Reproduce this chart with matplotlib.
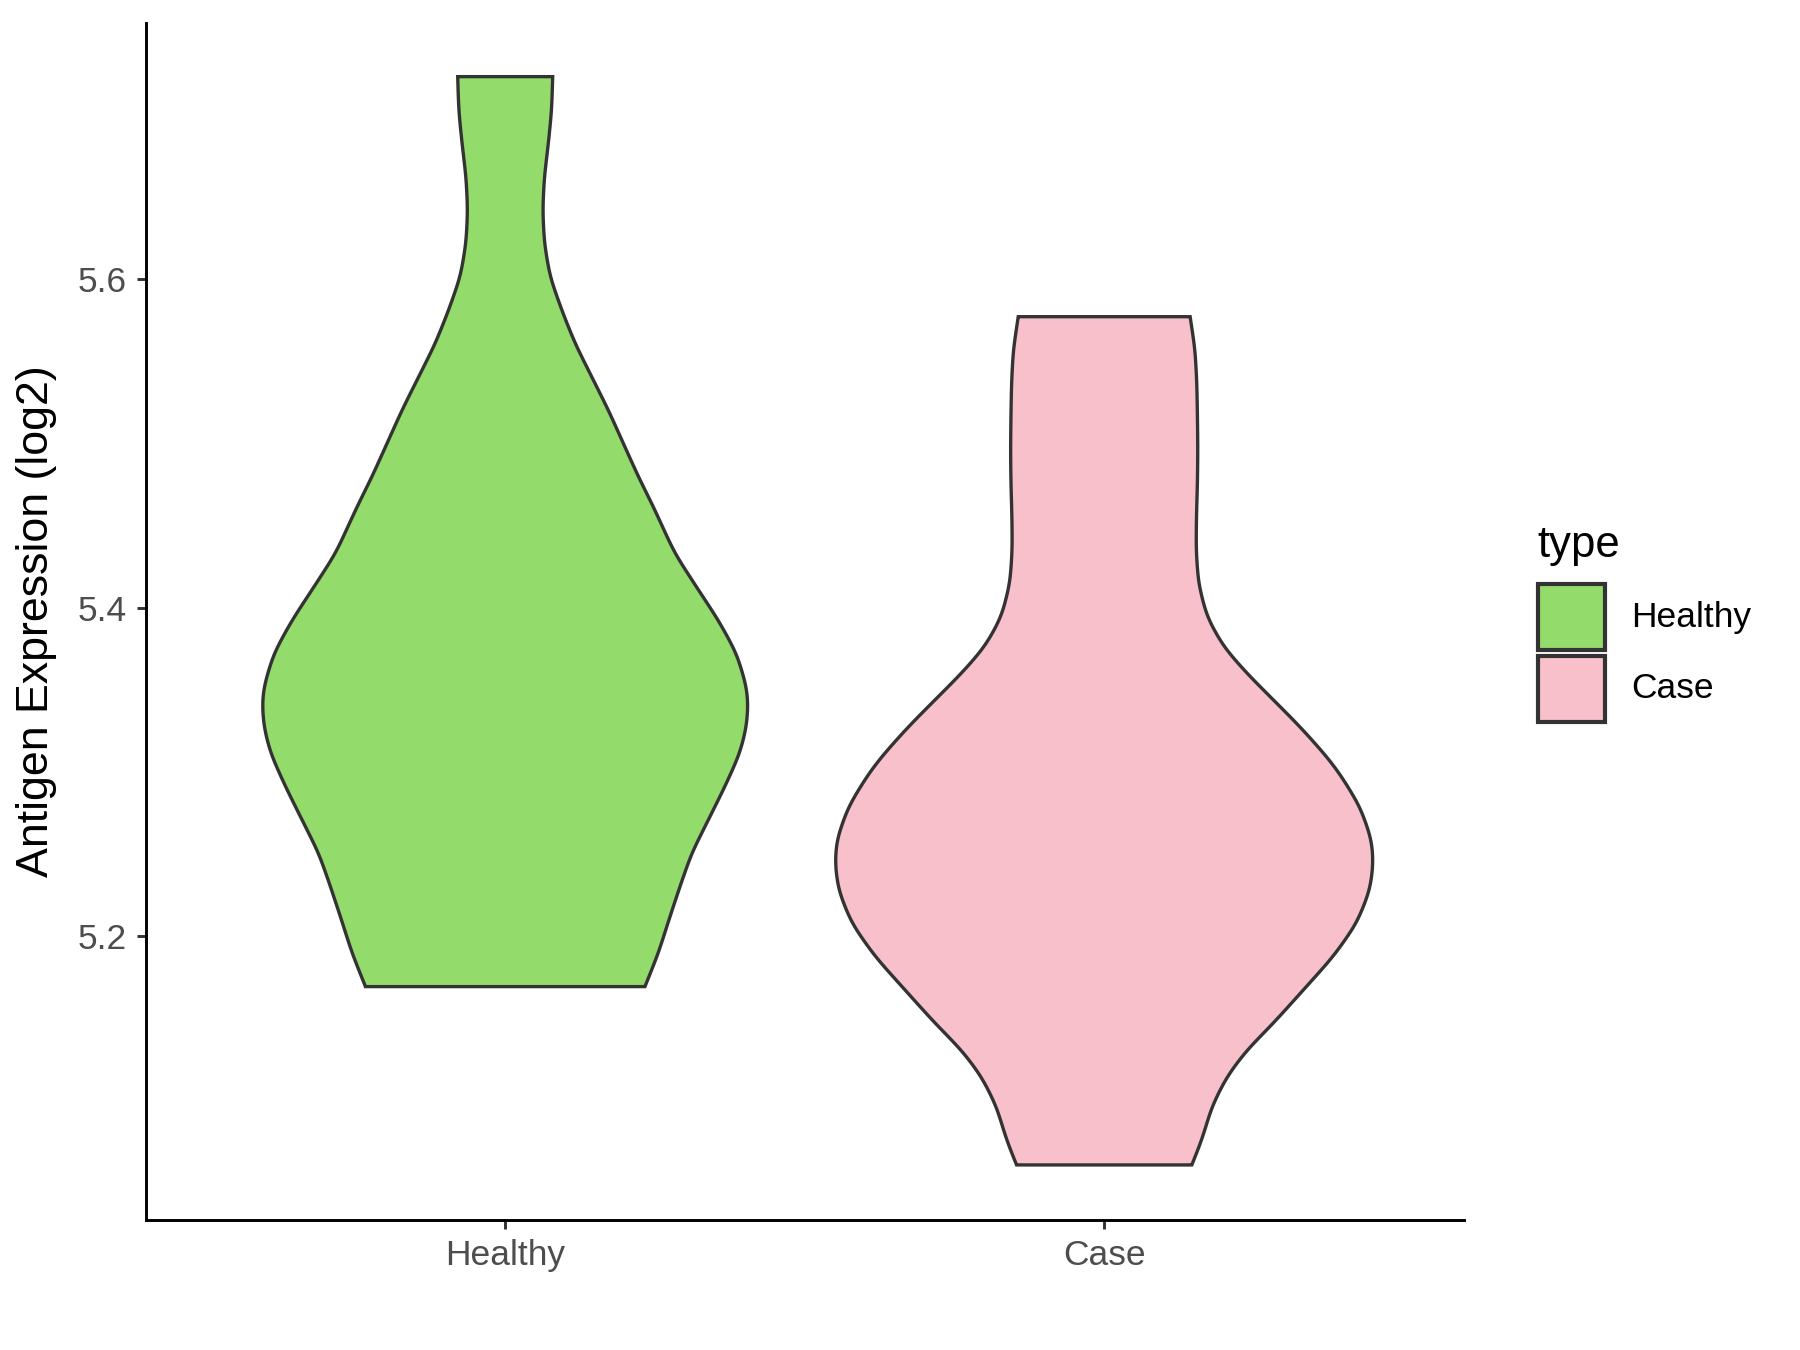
import numpy as np
import matplotlib
matplotlib.use("Agg")
import matplotlib.pyplot as plt
from matplotlib.patches import Rectangle

# ---------------- data ----------------
categories = ["Healthy", "Case"]
fill_colors = ["#93DB6A", "#F8C0CB"]

# violin outline: expression level (log2) and half-width (category units)
healthy_levels = [5.7234, 5.7031, 5.6828, 5.6625, 5.6422, 5.6219, 5.6016, 5.5813,
                  5.5610, 5.5407, 5.5204, 5.5001, 5.4798, 5.4615, 5.4331, 5.4128,
                  5.3925, 5.3722, 5.3519, 5.3418, 5.3275, 5.3113, 5.2910, 5.2707,
                  5.2504, 5.2301, 5.2098, 5.1895, 5.1692]
healthy_halfwidth = [0.0793, 0.0776, 0.0721, 0.0654, 0.0626, 0.0654, 0.0748, 0.0943,
                     0.1165, 0.1443, 0.1722, 0.1972, 0.2223, 0.2473, 0.2830, 0.3190,
                     0.3557, 0.3863, 0.4030, 0.4058, 0.4030, 0.3918, 0.3668, 0.3391,
                     0.3112, 0.2917, 0.2733, 0.2556, 0.2333]

case_levels = [5.5772, 5.5569, 5.5367, 5.5163, 5.4960, 5.4758, 5.4554, 5.4351,
               5.4149, 5.3945, 5.3762, 5.3600, 5.3438, 5.3275, 5.3093, 5.2991,
               5.2788, 5.2585, 5.2443, 5.2281, 5.2078, 5.1875, 5.1672, 5.1469,
               5.1306, 5.1144, 5.0961, 5.0758, 5.0606]
case_halfwidth = [0.1435, 0.1518, 0.1547, 0.1557, 0.1563, 0.1557, 0.1540, 0.1535,
                  0.1573, 0.1714, 0.1991, 0.2381, 0.2825, 0.3270, 0.3716, 0.3930,
                  0.4272, 0.4467, 0.4494, 0.4438, 0.4217, 0.3826, 0.3326, 0.2825,
                  0.2381, 0.2047, 0.1797, 0.1630, 0.1463]

y_ticks = [5.2, 5.4, 5.6]
y_label = "Antigen Expression (log2)"
legend_title = "type"

levels = [healthy_levels, case_levels]
halfwidths = [healthy_halfwidth, case_halfwidth]

# ---------------- helpers ----------------
def smooth_outline(y, w, n=600, sigma=0.006):
    """Dense, lightly smoothed rendering of the outline through the read points."""
    y = np.asarray(y, float)
    w = np.asarray(w, float)
    order = np.argsort(y)
    y, w = y[order], w[order]
    grid = np.linspace(y[0], y[-1], n)
    wg = np.interp(grid, y, w)
    dy = grid[1] - grid[0]
    k = int(np.ceil(3 * sigma / dy))
    # odd reflection keeps the end slopes
    left = 2 * wg[0] - wg[1:k + 1][::-1]
    right = 2 * wg[-1] - wg[-k - 1:-1][::-1]
    padded = np.concatenate([left, wg, right])
    t = np.arange(-k, k + 1) * dy
    ker = np.exp(-0.5 * (t / sigma) ** 2)
    ker /= ker.sum()
    ws = np.convolve(padded, ker, mode="valid")
    return grid, ws

# ---------------- figure ----------------
plt.rcParams["font.family"] = ["Liberation Sans", "DejaVu Sans"]
fig = plt.figure(figsize=(12, 9), dpi=150)
ax = fig.add_axes([0.081, 0.0961, 0.7321, 0.8869])

edge = "#333333"
for i, (lv, hw, col) in enumerate(zip(levels, halfwidths, fill_colors)):
    pos = i + 1
    ys, ws = smooth_outline(lv, hw)
    xs = np.concatenate([pos - ws, (pos + ws)[::-1]])
    yy = np.concatenate([ys, ys[::-1]])
    ax.fill(xs, yy, facecolor=col, edgecolor=edge, linewidth=1.6, joinstyle="miter", zorder=2)

ax.set_xlim(0.4, 2.6)
ax.set_ylim(5.0269, 5.7561)
ax.set_xticks([1, 2])
ax.set_xticklabels(categories)
ax.set_yticks(y_ticks)
ax.set_yticklabels([f"{v:.1f}" for v in y_ticks])

for s in ["top", "right"]:
    ax.spines[s].set_visible(False)
for s in ["left", "bottom"]:
    ax.spines[s].set_linewidth(1.4)
    ax.spines[s].set_color("black")
    ax.spines[s].set_capstyle("projecting")

ax.tick_params(axis="both", length=4.2, width=1.4, color="#333333",
               labelsize=17, labelcolor="#4D4D4D", pad=5)
ax.set_ylabel(y_label, fontsize=21.5, color="black", labelpad=10)

# legend (ggplot style, placed in figure pixels)
W, H = 1800.0, 1350.0
fig.text(1537 / W, 1 - 545 / H, legend_title, fontsize=21, va="center", ha="left")
key_y = [584, 656]
key_h = 66
for i, (lab, col) in enumerate(zip(categories, fill_colors)):
    y0 = key_y[i]
    fig.patches.append(Rectangle((1538 / W, 1 - (y0 + key_h) / H), 67 / W, key_h / H,
                                 transform=fig.transFigure, facecolor=col,
                                 edgecolor=edge, linewidth=2.0))
    fig.text(1631 / W, 1 - (y0 + key_h / 2) / H, lab, fontsize=17,
             va="center", ha="left")

fig.savefig("out.png", dpi=150)
